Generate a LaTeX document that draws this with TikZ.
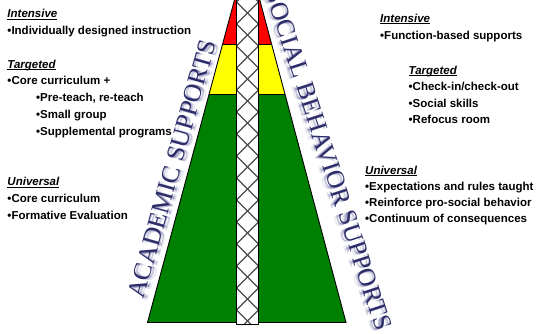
\documentclass[tikz,border=0pt]{standalone}
\usepackage{fontspec}
\setmainfont{Liberation Sans}
\newfontfamily\wordartfont{Liberation Serif}
\definecolor{pgreen}{RGB}{0,128,0}
\definecolor{pred}{RGB}{255,0,0}
\definecolor{pyellow}{RGB}{255,255,0}
\definecolor{waink}{RGB}{45,45,105}
\definecolor{washadow}{RGB}{120,120,170}
\newcommand\hdg[1]{\setbox0\hbox{\itshape #1}\rlap{\rule[-1.7pt]{\wd0}{0.9pt}}\box0}
\begin{document}
\begin{tikzpicture}[x=1pt,y=-1pt,
  txtline/.style={font=\fontsize{11.5}{13}\selectfont\bfseries, inner sep=0pt, anchor=base west},
  wa/.style={font=\wordartfont\fontsize{25.5}{30}\selectfont, inner sep=0pt, text=waink},
  wash/.style={wa, text=washadow, opacity=0.4},
  edgeline/.style={draw=black, line width=0.9pt, line join=miter},
  hatch/.style={draw=black!70, line width=1.3pt}]
\useasboundingbox (0,0) rectangle (536,333);
\clip (0,0) rectangle (536,333);

% pyramid
\coordinate (tl) at (235.3,-3);
\coordinate (tr) at (259.0,-3);
\coordinate (ml) at (222.6,44);
\coordinate (mr) at (271.6,44);
\coordinate (gl) at (209.1,94);
\coordinate (gr) at (284.9,94);
\coordinate (bl) at (147.5,322.5);
\coordinate (br) at (346,322.5);
\fill[pred] (tl) -- (ml) -- (mr) -- (tr) -- cycle;
\fill[pyellow] (ml) -- (gl) -- (gr) -- (mr) -- cycle;
\fill[pgreen] (gl) -- (bl) -- (br) -- (gr) -- cycle;
\draw[edgeline] (ml) -- (mr) (gl) -- (gr);
\draw[edgeline] (tl) -- (bl) -- (br) -- (tr);

% column
\coordinate (c1) at (236.5,-3);
\coordinate (c2) at (258.5,324);
\fill[white] (c1) rectangle (c2);
\begin{scope}
  \clip (c1) rectangle (c2);
  \foreach \k in {-1,...,15} {
    \draw[hatch] (236.5,2+22*\k) -- (258.5,24+22*\k);
    \draw[hatch] (258.5,2+22*\k) -- (236.5,24+22*\k);
  }
\end{scope}
\draw[line width=0.9pt] (c1) rectangle (c2);

% word art
\node[wash, opacity=0.2, rotate=74.3] (acadsh3) at (176.3,170.2) {ACADEMIC SUPPORTS};
\node[wash, rotate=74.3] (acadsh2) at (174.9,169.8) {ACADEMIC SUPPORTS};
\node[wash, rotate=74.3] (acadsh1) at (173.4,169.4) {ACADEMIC SUPPORTS};
\node[wa, rotate=74.3] (acad) at (172,169) {ACADEMIC SUPPORTS};
\node[wash, opacity=0.2, rotate=-71.9] (socsh3) at (324.7,160.9) {SOCIAL BEHAVIOR SUPPORTS};
\node[wash, rotate=-71.9] (socsh2) at (326.1,160.4) {SOCIAL BEHAVIOR SUPPORTS};
\node[wash, rotate=-71.9] (socsh1) at (327.6,160.0) {SOCIAL BEHAVIOR SUPPORTS};
\node[wa, rotate=-71.9] (soc) at (329,159.5) {SOCIAL BEHAVIOR SUPPORTS};

% left texts
\node[txtline] (la) at (7.3,17.7) {\hdg{Intensive}};
\node[txtline] (lb) at (7.3,34.5) {•Individually designed instruction};
\node[txtline] (lc) at (7.3,68.1) {\hdg{Targeted}};
\node[txtline] (ld) at (7.3,84.9) {•Core curriculum +};
\node[txtline] (le) at (36,101.7) {•Pre-teach, re-teach};
\node[txtline] (lf) at (36,118.5) {•Small group};
\node[txtline] (lg) at (36,135.3) {•Supplemental programs};
\node[txtline] (lh) at (7.3,185.7) {\hdg{Universal}};
\node[txtline] (li) at (7.3,202.5) {•Core curriculum};
\node[txtline] (lj) at (7.3,219.3) {•Formative Evaluation};

% right texts
\node[txtline] (ra) at (380,22.3) {\hdg{Intensive}};
\node[txtline] (rb) at (380,39) {•Function-based supports};
\node[txtline] (rc) at (408.5,74) {\hdg{Targeted}};
\node[txtline] (rd) at (408.5,90.5) {•Check-in/check-out};
\node[txtline] (re) at (408.5,107) {•Social skills};
\node[txtline] (rf) at (408.5,123.5) {•Refocus room};
\node[txtline] (rg) at (365,174) {\hdg{Universal}};
\node[txtline] (rh) at (365,190) {•Expectations and rules taught};
\node[txtline] (ri) at (365,206) {•Reinforce pro-social behavior};
\node[txtline] (rj) at (365,222) {•Continuum of consequences};
\end{tikzpicture}
\end{document}
